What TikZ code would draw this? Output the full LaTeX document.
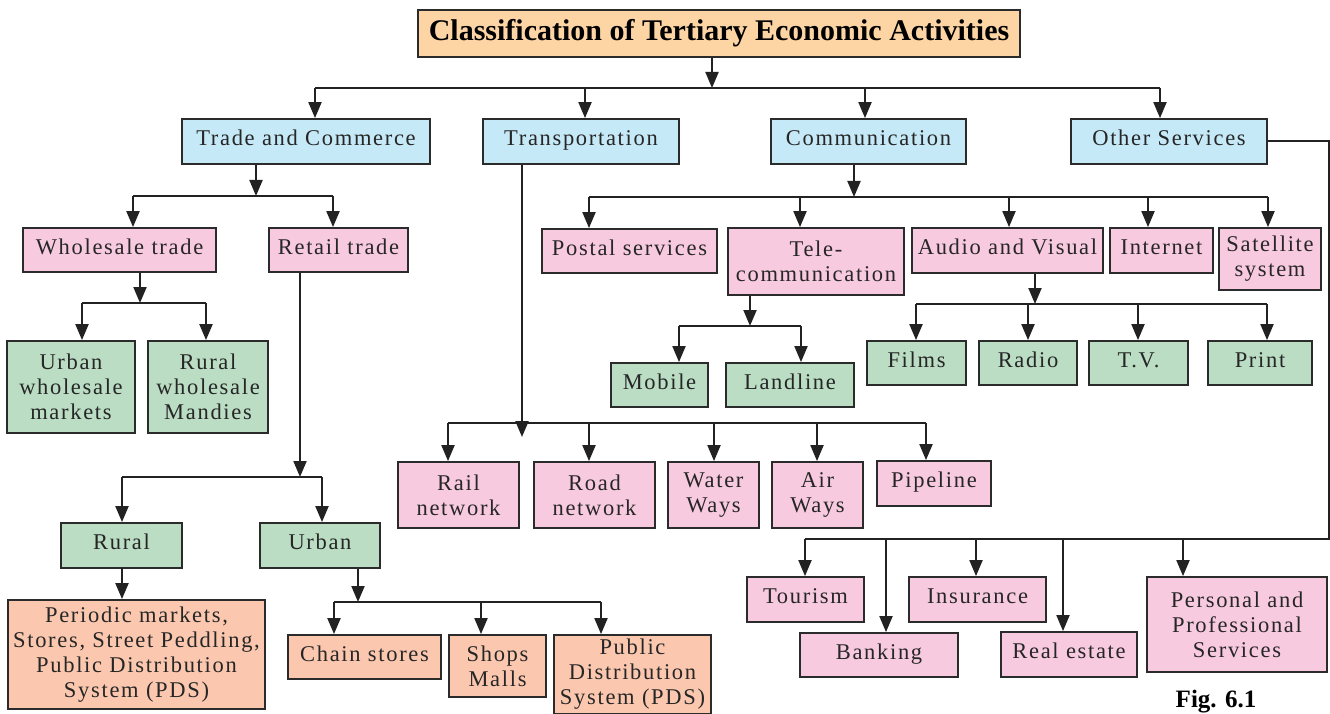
\documentclass[tikz,border=0pt]{standalone}
\usepackage{fontspec}
\setmainfont{Liberation Serif}
\newfontfamily\boxfont{Liberation Serif}[LetterSpace=7.5]
\usetikzlibrary{arrows.meta}
\definecolor{cTitle}{HTML}{FDD5A5}
\definecolor{cBlue}{HTML}{C6E9F8}
\definecolor{cPink}{HTML}{F8CADF}
\definecolor{cGreen}{HTML}{BADDC4}
\definecolor{cSalmon}{HTML}{FBC8AF}
\definecolor{cBorder}{HTML}{2B2B2B}
\definecolor{cLine}{HTML}{222222}
\tikzset{
  box/.style={draw=cBorder, line width=1.8pt, inner sep=0pt, align=center,
    font=\boxfont\fontsize{22.5}{25}\selectfont, text=black!85},
  one/.style={text height=15pt, text depth=7pt},
  blue/.style={box, one, fill=cBlue},
  pinkbox/.style={box, fill=cPink},
  greenbox/.style={box, fill=cGreen},
  salbox/.style={box, fill=cSalmon},
  ln/.style={draw=cLine, line width=2pt},
  arr/.style={ln, -{Triangle[length=16pt,width=13pt]}},
}
\newcommand\drop[2]{\draw[arr] (#1) -- (#2.north -| #1);}
\begin{document}
\begin{tikzpicture}[x=1pt,y=-1pt]
\useasboundingbox (0,0) rectangle (1330,714);
% title
\node[draw=cBorder, line width=1.8pt, fill=cTitle, minimum width=602, minimum height=47, inner sep=0pt,
  font=\bfseries\fontsize{30}{32}\selectfont, text height=20pt, text depth=6pt] (title) at (719,33.5)
  {Classification of Tertiary Economic Activities};
% level 1
\node[blue, minimum width=248, minimum height=45] (trade) at (306,141.5) {Trade and Commerce};
\node[blue, minimum width=196, minimum height=45] (transp) at (581,141.5) {Transportation};
\node[blue, minimum width=195, minimum height=45] (comm) at (868.5,141.5) {Communication};
\node[blue, minimum width=196, minimum height=45] (other) at (1169,141.5) {Other Services};
% trade subtree
\node[pinkbox, one, minimum width=193, minimum height=44] (whole) at (119.5,250) {Wholesale trade};
\node[pinkbox, one, minimum width=139, minimum height=44] (retail) at (338.5,250) {Retail trade};
\node[greenbox, minimum width=128, minimum height=92] (uwm) at (71,387) {Urban\\wholesale\\markets};
\node[greenbox, minimum width=120, minimum height=92] (rwm) at (208,387) {Rural\\wholesale\\Mandies};
\node[greenbox, one, minimum width=121, minimum height=45] (rural) at (121.5,545.5) {Rural};
\node[greenbox, one, minimum width=120, minimum height=45] (urban) at (320,545.5) {Urban};
\node[salbox, minimum width=257, minimum height=109] (periodic) at (136.5,654.5) {Periodic markets,\\Stores, Street Peddling,\\Public Distribution\\System (PDS)};
\node[salbox, one, minimum width=153, minimum height=44] (chain) at (364.5,657) {Chain stores};
\node[salbox, minimum width=97, minimum height=62] (shops) at (497.5,666) {Shops\\Malls};
\node[salbox, minimum width=157, minimum height=79] (pds) at (632.5,674.5) {Public\\Distribution\\System (PDS)};
% communication subtree
\node[pinkbox, one, minimum width=175, minimum height=44] (postal) at (629.5,251) {Postal services};
\node[pinkbox, minimum width=176, minimum height=67] (tele) at (816,261.5) {Tele-\\communication};
\node[pinkbox, one, minimum width=191, minimum height=45] (audio) at (1007.5,250.5) {Audio and Visual};
\node[pinkbox, one, minimum width=103, minimum height=45] (internet) at (1161.5,250.5) {Internet};
\node[pinkbox, minimum width=102, minimum height=62] (sat) at (1270,259) {Satellite\\system};
\node[greenbox, one, minimum width=97, minimum height=44] (mobile) at (659.5,385) {Mobile};
\node[greenbox, one, minimum width=128, minimum height=44] (landline) at (790,385) {Landline};
\node[greenbox, one, minimum width=99, minimum height=44] (films) at (916.5,363) {Films};
\node[greenbox, one, minimum width=98, minimum height=44] (radio) at (1028,363) {Radio};
\node[greenbox, one, minimum width=99, minimum height=44] (tv) at (1138.5,363) {T.V.};
\node[greenbox, one, minimum width=104, minimum height=44] (print) at (1260,363) {Print};
% transportation subtree
\node[pinkbox, minimum width=121, minimum height=66] (rail) at (458.5,495) {Rail\\network};
\node[pinkbox, minimum width=121, minimum height=66] (road) at (594.5,495) {Road\\network};
\node[pinkbox, minimum width=91, minimum height=66] (water) at (713.5,495) {Water\\Ways};
\node[pinkbox, minimum width=91, minimum height=66] (air) at (817.5,495) {Air\\Ways};
\node[pinkbox, one, minimum width=114, minimum height=45] (pipe) at (934,483.5) {Pipeline};
% other services subtree
\node[pinkbox, one, minimum width=117, minimum height=45] (tourism) at (805.5,599.5) {Tourism};
\node[pinkbox, one, minimum width=158, minimum height=44] (banking) at (879,655) {Banking};
\node[pinkbox, one, minimum width=137, minimum height=45] (insurance) at (977.5,599.5) {Insurance};
\node[pinkbox, one, minimum width=136, minimum height=45] (realestate) at (1069,654.5) {Real estate};
\node[pinkbox, minimum width=180, minimum height=95] (personal) at (1237,624.5) {Personal and\\Professional\\Services};
\node[font=\bfseries\fontsize{25}{28}\selectfont] (fig) at (1216,702) {Fig. 6.1};

% ---- connectors ----
% title
\coordinate (j0) at (712,88);
\coordinate (b0a) at (315,88); \coordinate (b0b) at (585,88);
\coordinate (b0c) at (865,88); \coordinate (b0d) at (1160,88);
\draw[arr] (title.south -| j0) -- (j0);
\draw[ln] (b0a) -- (b0d);
\drop{b0a}{trade} \drop{b0b}{transp} \drop{b0c}{comm} \drop{b0d}{other}
% trade
\coordinate (j1) at (256,196);
\coordinate (b1a) at (133,196); \coordinate (b1b) at (333,196);
\draw[arr] (trade.south -| j1) -- (j1);
\draw[ln] (b1a) -- (b1b);
\drop{b1a}{whole} \drop{b1b}{retail}
% wholesale
\coordinate (j2) at (140,303);
\coordinate (b2a) at (82,303); \coordinate (b2b) at (206,303);
\draw[arr] (whole.south -| j2) -- (j2);
\draw[ln] (b2a) -- (b2b);
\drop{b2a}{uwm} \drop{b2b}{rwm}
% retail
\coordinate (j3) at (300,477);
\coordinate (b3a) at (122,477); \coordinate (b3b) at (322,477);
\draw[arr] (retail.south -| j3) -- (j3);
\draw[ln] (b3a) -- (b3b);
\drop{b3a}{rural} \drop{b3b}{urban}
% rural
\coordinate (j4) at (122,568);
\drop{j4}{periodic}
% urban
\coordinate (j5) at (358,602);
\coordinate (b5a) at (334,602); \coordinate (b5b) at (481,602); \coordinate (b5c) at (601,602);
\draw[arr] (urban.south -| j5) -- (j5);
\draw[ln] (b5a) -- (b5c);
\drop{b5a}{chain} \drop{b5b}{shops} \drop{b5c}{pds}
% transportation
\coordinate (j6) at (522,437);
\coordinate (b6a) at (448,423); \coordinate (b6b) at (589,423); \coordinate (b6c) at (714,423);
\coordinate (b6d) at (817,423); \coordinate (b6e) at (926,423);
\draw[arr] (transp.south -| j6) -- (j6);
\draw[ln] (b6a) -- (b6e);
\drop{b6a}{rail} \drop{b6b}{road} \drop{b6c}{water} \drop{b6d}{air} \drop{b6e}{pipe}
% communication
\coordinate (j7) at (854,197);
\coordinate (b7a) at (589,197); \coordinate (b7b) at (800,197); \coordinate (b7c) at (1009,197);
\coordinate (b7d) at (1148,197); \coordinate (b7e) at (1268,197);
\draw[arr] (comm.south -| j7) -- (j7);
\draw[ln] (b7a) -- (b7e);
\drop{b7a}{postal} \drop{b7b}{tele} \drop{b7c}{audio} \drop{b7d}{internet} \drop{b7e}{sat}
% tele
\coordinate (j8) at (750,326);
\coordinate (b8a) at (679,326); \coordinate (b8b) at (801,326);
\draw[arr] (tele.south -| j8) -- (j8);
\draw[ln] (b8a) -- (b8b);
\drop{b8a}{mobile} \drop{b8b}{landline}
% audio
\coordinate (j9) at (1035,304);
\coordinate (b9a) at (916,304); \coordinate (b9b) at (1028,304);
\coordinate (b9c) at (1138,304); \coordinate (b9d) at (1267,304);
\draw[arr] (audio.south -| j9) -- (j9);
\draw[ln] (b9a) -- (b9d);
\drop{b9a}{films} \drop{b9b}{radio} \drop{b9c}{tv} \drop{b9d}{print}
% other services
\coordinate (jo) at (1329,539);
\coordinate (boa) at (805,539); \coordinate (bob) at (886,539); \coordinate (boc) at (976,539);
\coordinate (bod) at (1063,539); \coordinate (boe) at (1183,539);
\draw[ln] (other.east) -| (jo) -- (boa);
\drop{boa}{tourism} \drop{bob}{banking} \drop{boc}{insurance} \drop{bod}{realestate} \drop{boe}{personal}
\end{tikzpicture}
\end{document}
